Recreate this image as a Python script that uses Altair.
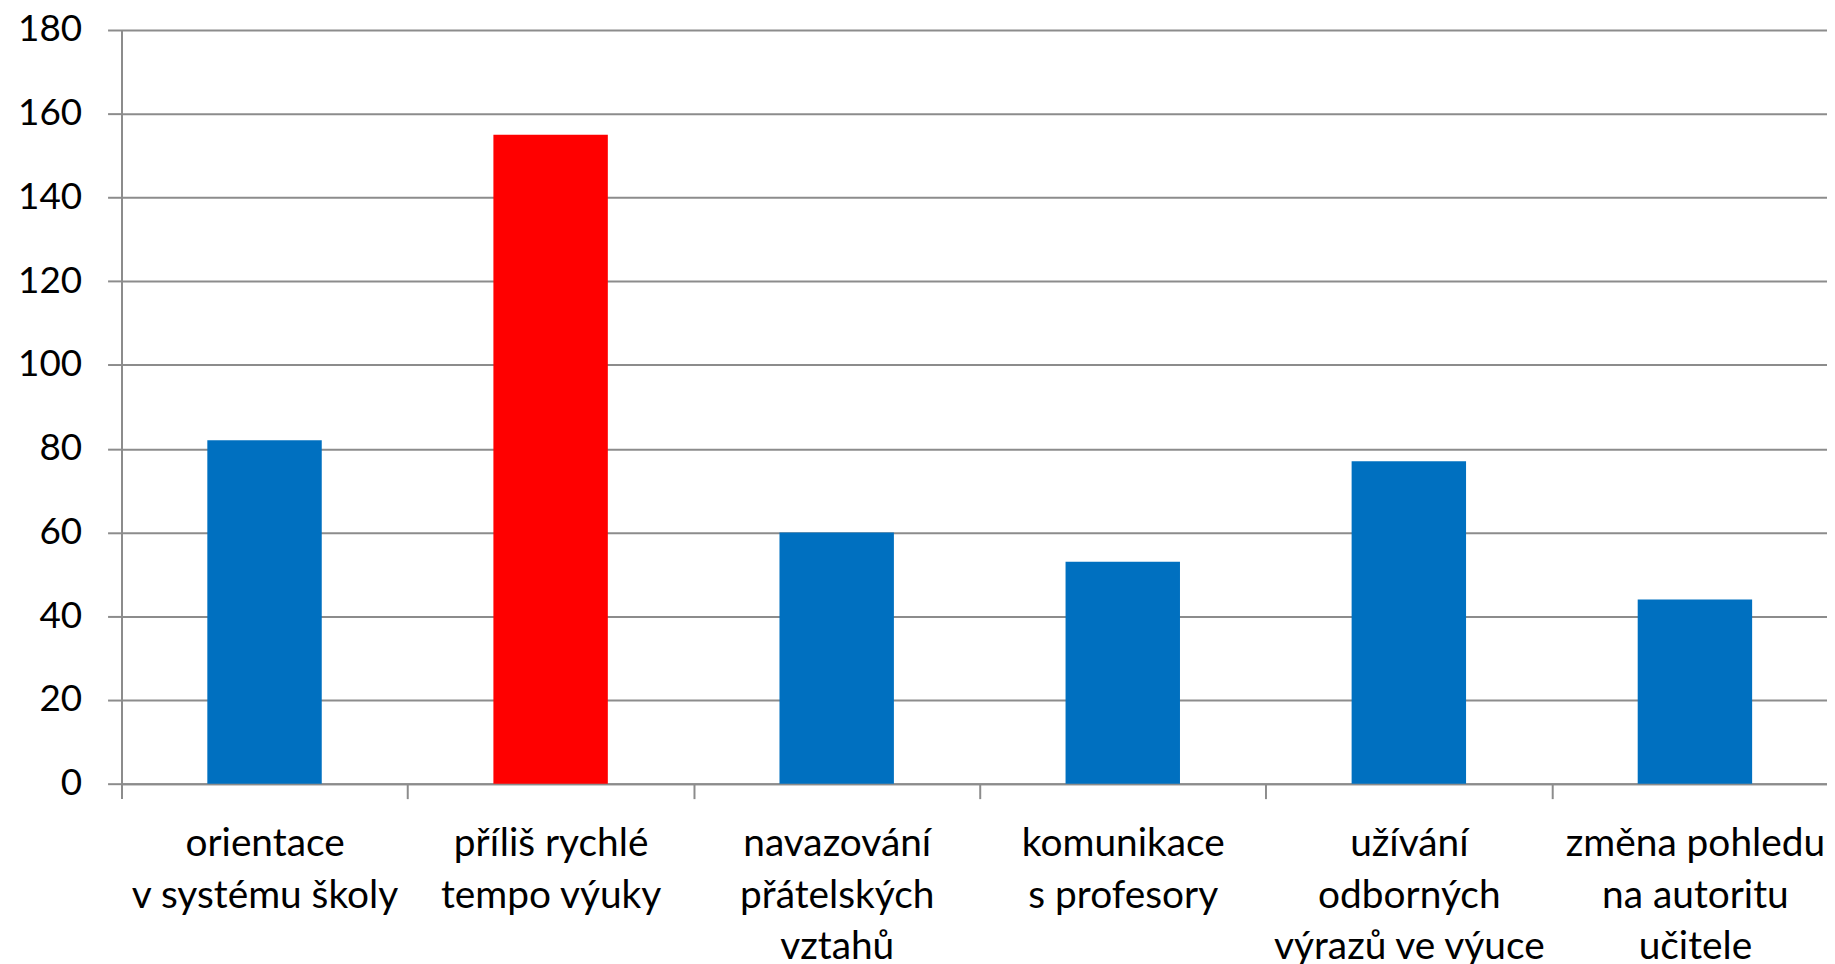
import altair as alt
import pandas as pd

categories = [
    "orientace\nv systému školy",
    "příliš rychlé\ntempo výuky",
    "navazování\npřátelských\nvztahů",
    "komunikace\ns profesory",
    "užívání\nodborných\nvýrazů ve výuce",
    "změna pohledu\nna autoritu\nučitele",
]
values = [82, 155, 60, 53, 77, 44]
colors = ["#0070C0", "#FF0000", "#0070C0", "#0070C0", "#0070C0", "#0070C0"]

df = pd.DataFrame({"kat": categories, "hodnota": values, "barva": colors})

FONT = "Lato"
GRID = "#8c8c8c"

chart = (
    alt.Chart(df)
    .mark_bar(width=alt.RelativeBandSize(0.4))
    .encode(
        x=alt.X(
            "kat:N",
            sort=categories,
            scale=alt.Scale(paddingInner=0, paddingOuter=0, range=[0, 1724]),
            axis=alt.Axis(
                title=None,
                labelAngle=0,
                labelExpr="split(datum.label, '\\n')",
                labelFont=FONT,
                labelFontSize=39,
                labelColor="#000000",
                labelLineHeight=52,
                labelBaseline="top",
                labelPadding=26,
                labelLimit=400,
                tickBand="extent",
                ticks=True,
                tickSize=15,
                tickColor=GRID,
                tickWidth=2,
                domainColor=GRID,
                domainWidth=2,
                grid=False,
            ),
        ),
        y=alt.Y(
            "hodnota:Q",
            scale=alt.Scale(domain=[0, 180], nice=False),
            axis=alt.Axis(
                title=None,
                values=list(range(0, 181, 20)),
                labelFont=FONT,
                labelFontSize=37,
                labelColor="#000000",
                labelPadding=26,
                tickSize=14,
                tickColor=GRID,
                tickWidth=2,
                domainColor=GRID,
                domainWidth=2,
                grid=True,
                gridColor=GRID,
                gridWidth=2,
            ),
        ),
        color=alt.Color("barva:N", scale=None, legend=None),
    )
    .properties(
        width=1713,
        height=757,
        autosize=alt.AutoSizeParams(type="none"),
        padding={"left": 114, "top": 20, "right": 0, "bottom": 179},
    )
    .configure_view(stroke=None)
    .configure(background="white")
)

chart.save("out.html", embed_options={"renderer": "svg", "actions": False})
